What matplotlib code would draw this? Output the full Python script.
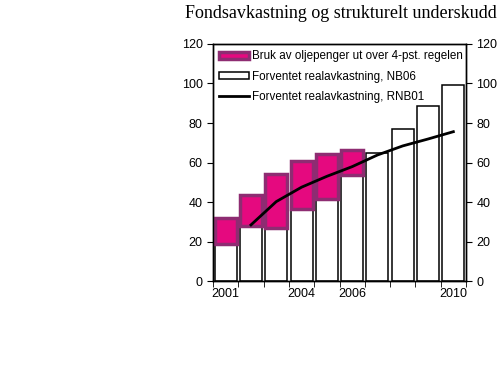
import matplotlib.pyplot as plt
import numpy as np

years = ['2001', '2002', '2003', '2004', '2005', '2006', '2007', '2008', '2009', '2010']
shown_labels = ['2001', '', '', '2004', '', '2006', '', '', '', '2010']
nb06 = [18.7, 27.8, 26.7, 36.5, 41.4, 53.8, 64.6, 76.8, 88.4, 99.2]
bruk_top = [32.0, 43.5, 54.0, 60.8, 64.1, 66.3, None, None, None, None]
rnb01_years = ['2002', '2003', '2004', '2005', '2006', '2007', '2008', '2009', '2010']
rnb01 = [28.4, 40.2, 47.5, 53.0, 57.9, 63.8, 68.4, 71.9, 75.6]

plt.rcParams['font.family'] = ['Liberation Sans', 'DejaVu Sans']

fig = plt.figure(figsize=(5, 3.77), dpi=100)
ax = fig.add_axes([0.426, 0.2546, 0.506, 0.6287])

x = np.arange(len(years))
w = 0.87

nb_bars = ax.bar(x, nb06, width=w, color='white', edgecolor='black', linewidth=1.1, zorder=2)

bx = [i for i, t in enumerate(bruk_top) if t is not None]
bh = [bruk_top[i] - nb06[i] for i in bx]
bb = [nb06[i] for i in bx]
bruk_bars = ax.bar(bx, bh, bottom=bb, width=w, color='#e5097f', edgecolor='#8e2c72',
                   linewidth=2.5, zorder=3)

lx = [years.index(y) for y in rnb01_years]
line, = ax.plot(lx, rnb01, color='black', linewidth=2, zorder=4)

ax.set_xlim(-0.5, len(years) - 0.5)
ax.set_ylim(0, 120)
ax.set_yticks(range(0, 121, 20))
ax.set_xticks(x)
ax.set_xticklabels(shown_labels)
ax.set_xticks(np.arange(-0.5, len(years), 1), minor=True)
ax.tick_params(axis='x', which='major', length=0, labelsize=9, pad=5)
ax.tick_params(axis='x', which='minor', length=4, direction='out')
ax.tick_params(axis='y', labelsize=9, length=4, direction='out')

ax2 = ax.twinx()
ax2.set_ylim(0, 120)
ax2.set_yticks(range(0, 121, 20))
ax2.tick_params(axis='y', labelsize=9, length=4, direction='out')

for a in (ax, ax2):
    for s in a.spines.values():
        s.set_linewidth(1.0)

ax.legend([bruk_bars, nb_bars, line],
          ['Bruk av oljepenger ut over 4-pst. regelen',
           'Forventet realavkastning, NB06',
           'Forventet realavkastning, RNB01'],
          loc='upper left', frameon=False, fontsize=8.4, handlelength=2.5,
          handletextpad=0.25, borderaxespad=0.15, labelspacing=0.7,
          handleheight=0.6)

fig.text(0.994, 0.965, 'Fondsavkastning og strukturelt underskudd', ha='right', va='center',
         family='Liberation Serif', fontsize=13)

fig.savefig('out.png', dpi=100)
